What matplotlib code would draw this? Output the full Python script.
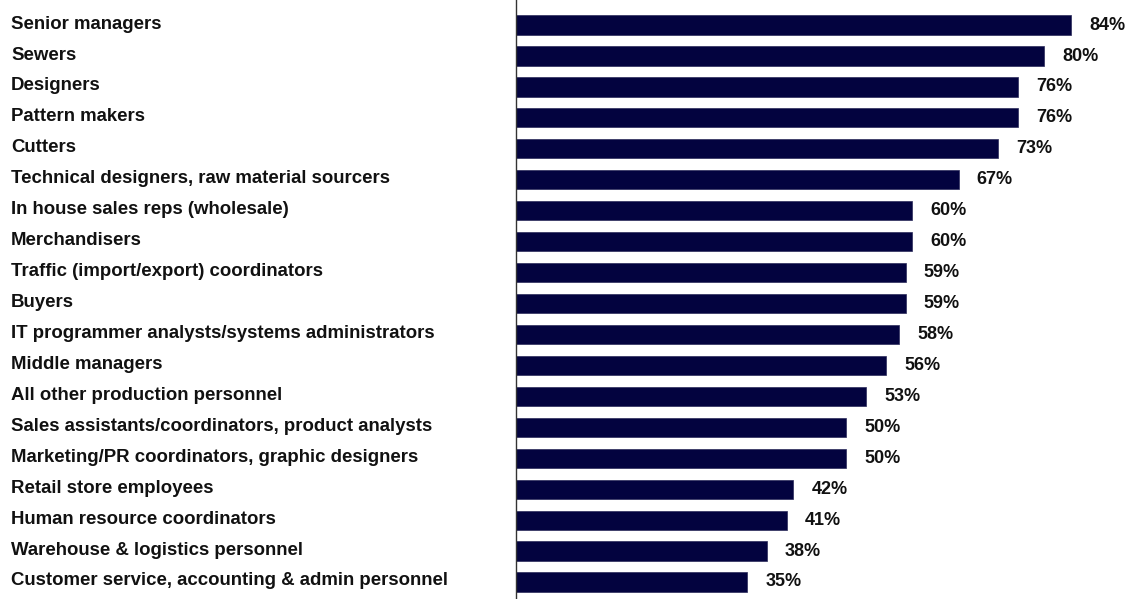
import matplotlib
matplotlib.use("Agg")
import matplotlib.pyplot as plt

# categories, top to bottom
roles = [
    "Senior managers",
    "Sewers",
    "Designers",
    "Pattern makers",
    "Cutters",
    "Technical designers, raw material sourcers",
    "In house sales reps (wholesale)",
    "Merchandisers",
    "Traffic (import/export) coordinators",
    "Buyers",
    "IT programmer analysts/systems administrators",
    "Middle managers",
    "All other production personnel",
    "Sales assistants/coordinators, product analysts",
    "Marketing/PR coordinators, graphic designers",
    "Retail store employees",
    "Human resource coordinators",
    "Warehouse & logistics personnel",
    "Customer service, accounting & admin personnel",
]
shares = [84, 80, 76, 76, 73, 67, 60, 60, 59, 59, 58, 56, 53, 50, 50, 42, 41, 38, 35]

plt.rcParams['font.family'] = ['Liberation Sans', 'DejaVu Sans']

fig = plt.figure(figsize=(11.31, 5.99), dpi=100)
ax = fig.add_axes([516 / 1131, 0, 1 - 516 / 1131, 1])

pos = list(range(len(roles)))
ax.barh(pos, shares, height=0.62, color="#03033f", edgecolor="#2a2a5a", linewidth=0.5)

for y, v in zip(pos, shares):
    ax.annotate("%d%%" % v, (v, y), xytext=(13, 0), textcoords="offset points",
                ha="left", va="center", fontsize=13, fontweight="bold", color="#111111")

# row labels, left aligned at the figure edge
for y, name in zip(pos, roles):
    ax.annotate(name, (0, y), xycoords=("figure fraction", "data"),
                xytext=(11, 1), textcoords="offset pixels",
                ha="left", va="center", fontsize=13.4, fontweight="bold", color="#111111")

ax.set_xlim(0, 93.1)
ax.set_ylim(18.55, -0.81)
ax.set_xticks([])
ax.set_yticks([])
for s in ["top", "right", "bottom"]:
    ax.spines[s].set_visible(False)
ax.spines["left"].set_color("#333333")
ax.spines["left"].set_linewidth(1.0)

fig.savefig("out.png", dpi=100)
